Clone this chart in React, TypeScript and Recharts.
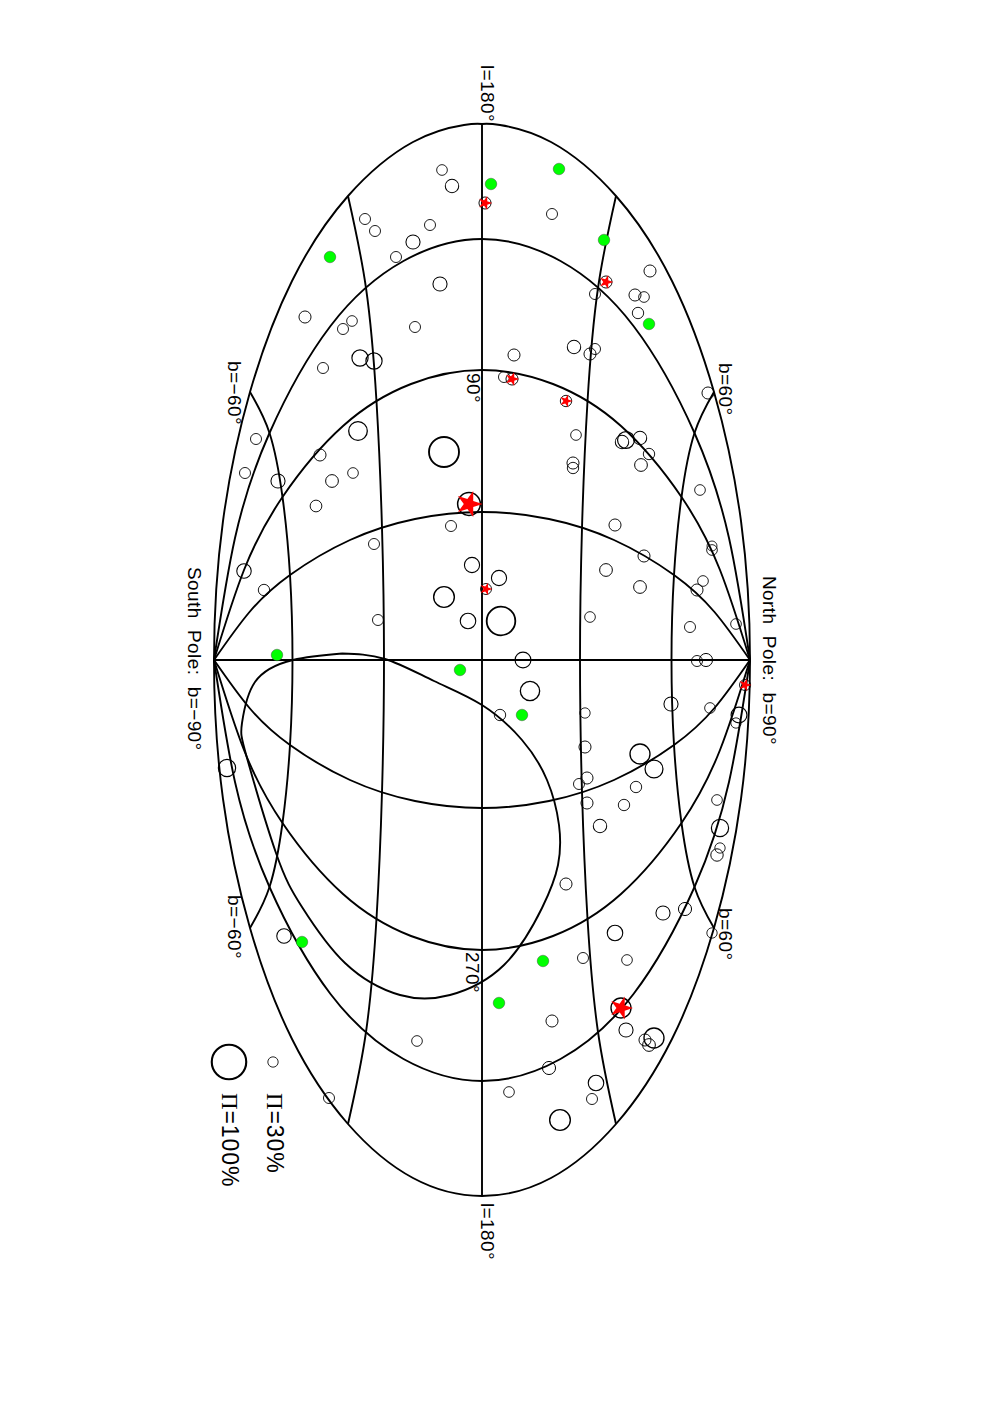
import React from 'react';
import { ComposedChart, Line, Scatter, Symbols, XAxis, YAxis } from 'recharts';

// All positions are map-plane units of the Hammer-Aitoff sheet (turned 90 degrees):
// across = towards the north pole, along = along the equator, [across, along]
const outline = [
  [0, -536], [18, -535], [69, -518], [134, -464], [190, -379], [232, -268], [259, -139], [268, 0],
  [259, 139], [232, 268], [190, 379], [134, 464], [69, 518], [0, 536],
  [-69, 518], [-134, 464], [-190, 379], [-232, 268], [-259, 139], [-268, 0],
  [-259, -139], [-232, -268], [-190, -379], [-134, -464], [-69, -518], [-18, -535], [0, -536],
];

const equator = [[0, -536], [0, 536]];
const meridianZero = [[-268, 0], [268, 0]];

const meridians = [
  [[-268, 0], [-232.5, -48], [-192, -85], [-132, -120], [-67, -141], [0, -148], [67, -141], [132, -120], [192, -85], [232.5, -48], [268, 0]],
  [[-268, 0], [-232.5, 48], [-192, 85], [-132, 120], [-67, 141], [0, 148], [67, 141], [132, 120], [192, 85], [232.5, 48], [268, 0]],
  [[-268, 0], [-238, -90], [-199.5, -163], [-139, -234], [-71, -276], [0, -290], [71, -276], [139, -234], [199.5, -163], [238, -90], [268, 0]],
  [[-268, 0], [-238, 90], [-199.5, 163], [-139, 234], [-71, 276], [0, 290], [71, 276], [139, 234], [199.5, 163], [238, 90], [268, 0]],
  [[-268, 0], [-247, -122], [-212.5, -227], [-151.5, -334], [-78.5, -399], [0, -421], [78.5, -399], [151.5, -334], [212.5, -227], [247, -122], [268, 0]],
  [[-268, 0], [-247, 122], [-212.5, 227], [-151.5, 334], [-78.5, 399], [0, 421], [78.5, 399], [151.5, 334], [212.5, 227], [247, 122], [268, 0]],
];

const parallels = [
  [[-134, -464], [-116, -372], [-105.5, -258.5], [-100, -132], [-98, 0], [-100, 132], [-105.5, 258.5], [-116, 372], [-134, 464]],
  [[134, -464], [116, -372], [105.5, -258.5], [100, -132], [98, 0], [100, 132], [105.5, 258.5], [116, 372], [134, 464]],
  [[-232, -268], [-212.5, -227], [-199.5, -163], [-192, -85], [-189.5, 0], [-192, 85], [-199.5, 163], [-212.5, 227], [-232, 268]],
  [[232, -268], [212.5, -227], [199.5, -163], [192, -85], [189.5, 0], [192, 85], [199.5, 163], [212.5, 227], [232, 268]],
];

const tiltedLoop = [
  [-140, -6.5], [-97, -1], [-48, 21], [0, 45], [40, 80], [65, 120], [77, 165], [76, 205], [60, 248],
  [22, 305], [-32, 335], [-82, 335], [-137, 303], [-180, 247], [-206, 193], [-235, 98], [-240, 63],
  [-227, 22], [-189, 0], [-140, -6.5],
];

// [across, along, polarization %]
const sources = [
  [-40, -490, 31], [-30, -474, 39], [-52, -435, 32], [-117, -441, 32], [-107, -429, 32], [-69, -418, 41],
  [-86, -403, 32], [-42, -376, 41], [-177, -343, 35], [-130, -339, 31], [-139, -331, 32], [-67, -333, 32],
  [-122, -302, 47], [-108, -299, 47], [-159, -292, 32], [70, -446, 32], [168, -389, 35], [113, -366, 32],
  [153, -365, 35], [162, -363, 31], [156, -347, 33], [92, -313, 39], [113, -311, 32], [108, -306, 35],
  [32, -305, 35], [-124, -229, 54], [-226, -221, 32], [-38, -208, 87], [-162, -205, 35], [-237, -187, 32],
  [-129, -187, 31], [-204, -179, 41], [-150, -179, 37], [-166, -154, 34], [-31, -134, 32], [-108, -116, 32],
  [-10, -95, 44], [-238, -89, 42], [-218, -70, 33], [-38, -63, 60], [-14, -39, 45], [-104, -40, 32],
  [19, -39, 83], [22, -283, 32], [226, -267, 35], [94, -225, 31], [140, -218, 39], [144, -220, 49],
  [158, -222, 39], [167, -206, 33], [159, -195, 37], [91, -197, 35], [91, -192, 33], [218, -170, 31],
  [133, -135, 35], [230, -114, 29], [230, -110, 31], [162, -104, 35], [124, -90, 37], [221, -79, 31],
  [215, -70, 35], [158, -73, 37], [17, -82, 44], [108, -43, 31], [208, -33, 32], [254, -36, 31],
  [41, 0, 46], [215, 1, 32], [224, 0, 38], [48, 31, 56], [189, 44, 41], [228, 48, 31],
  [103, 53, 30], [18, 55, 33], [257, 55, 46], [254, 63, 30], [103, 87, 35], [158, 94, 58],
  [172, 109, 52], [105, 118, 35], [97, 124, 32], [154, 127, 33], [105, 143, 35], [142, 145, 33],
  [235, 140, 31], [238, 168, 50], [118, 166, 39], [238, 188, 30], [235, 195, 36], [84, 224, 35],
  [181, 253, 41], [203, 249, 38], [230, 273, 30], [133, 273, 45], [101, 298, 32], [145, 300, 31],
  [70, 361, 35], [144, 370, 41], [172, 378, 58], [163, 380, 35], [167, 385, 37], [67, 408, 38],
  [114, 423, 45], [110, 439, 32], [27, 432, 31], [78, 460, 60], [-255, 108, 50], [-198, 276, 42],
  [-65, 381, 31], [-153, 438, 32],
];

const starred = [
  [3, -457, 35], [124, -378, 35], [30, -281, 35], [84, -259, 33],
  [-13, -156, 66], [4, -71, 32], [263, 25, 32], [139, 348, 58],
];

const greenSources = [
  [-152, -403], [9, -476], [77, -491], [122, -420], [167, -336], [-205, -5],
  [-22, 10], [40, 55], [-180, 282], [61, 301], [17, 343],
];

const legendCircles = [[-209, 402, 30], [-253, 402, 100]];

// text, across, along
const mapLabels: [string, number, number][] = [
  ['l=180°', -1, -595],
  ['l=180°', -1, 543],
  ['90°', -15.5, -287],
  ['270°', -16.5, 292],
  ['b=−60°', -254, -299],
  ['b=−60°', -254, 235],
  ['b=60°', 237, -297],
  ['b=60°', 237, 248],
  ['South  Pole:  b=−90°', -294, -93],
  ['North  Pole:  b=90°', 281, -84],
];

const legendLabels: [string, number, number][] = [
  ['=30%', -215, 433],
  ['=100%', -260, 433],
];

const toPoints = (rows: number[][]) => rows.map(([across, along]) => ({ across, along }));
const toSources = (rows: number[][]) => rows.map(([across, along, pol]) => ({ across, along, pol }));
const toLabels = (rows: [string, number, number][]) =>
  rows.map(([text, across, along]) => ({ text, across, along }));

const FONT = '"Liberation Sans", Arial, sans-serif';

const OpenCircle = ({ cx, cy, payload }: any) => (
  <circle
    cx={cx}
    cy={cy}
    r={payload.pol / 5.8}
    fill="none"
    stroke="#000"
    strokeWidth={0.3 + payload.pol / 55}
  />
);

const StarMark = ({ cx, cy, payload }: any) => {
  const r = (payload.pol / 5.8) * 1.2;
  return (
    <g transform={`rotate(90 ${cx} ${cy})`}>
      <Symbols type="star" sizeType="area" size={(r * r) / 0.8908} cx={cx} cy={cy} fill="#ff0000" stroke="none" />
    </g>
  );
};

const GreenDot = ({ cx, cy }: any) => (
  <circle cx={cx} cy={cy} r={5.8} fill="#00ff00" stroke="#333" strokeWidth={0.4} />
);

const MapLabel = ({ cx, cy, payload }: any) => (
  <text
    x={cx}
    y={cy}
    transform={`rotate(90 ${cx} ${cy})`}
    fontFamily={FONT}
    fontSize={19}
    letterSpacing={0.4}
    fill="#000"
    style={{ whiteSpace: 'pre' }}
  >
    {payload.text}
  </text>
);

const LegendLabel = ({ cx, cy, payload }: any) => (
  <text
    x={cx}
    y={cy}
    transform={`rotate(90 ${cx} ${cy})`}
    fontFamily={FONT}
    fontSize={23}
    letterSpacing={0.9}
    fill="#000"
  >
    <tspan fontFamily='"Liberation Serif", serif'>Π</tspan>
    {payload.text}
  </text>
);

const curves = [outline, equator, meridianZero, ...meridians, ...parallels, tiltedLoop];

export default function App() {
  return (
    <ComposedChart width={976} height={1388} margin={{ top: 0, right: 0, bottom: 0, left: 0 }}>
      <XAxis type="number" dataKey="across" domain={[-474, 502]} hide />
      <YAxis type="number" dataKey="along" domain={[-652, 736]} reversed hide />
      {curves.map((curve, i) => (
        <Line
          key={i}
          data={toPoints(curve)}
          dataKey="along"
          type={curve.length > 2 ? 'natural' : 'linear'}
          stroke="#000"
          strokeWidth={1.9}
          dot={false}
          isAnimationActive={false}
        />
      ))}
      <Scatter data={toSources(sources)} shape={OpenCircle} isAnimationActive={false} />
      <Scatter data={toSources(starred)} shape={OpenCircle} isAnimationActive={false} />
      <Scatter data={toSources(starred)} shape={StarMark} isAnimationActive={false} />
      <Scatter data={toPoints(greenSources)} shape={GreenDot} isAnimationActive={false} />
      <Scatter data={toSources(legendCircles)} shape={OpenCircle} isAnimationActive={false} />
      <Scatter data={toLabels(mapLabels)} shape={MapLabel} isAnimationActive={false} />
      <Scatter data={toLabels(legendLabels)} shape={LegendLabel} isAnimationActive={false} />
    </ComposedChart>
  );
}
